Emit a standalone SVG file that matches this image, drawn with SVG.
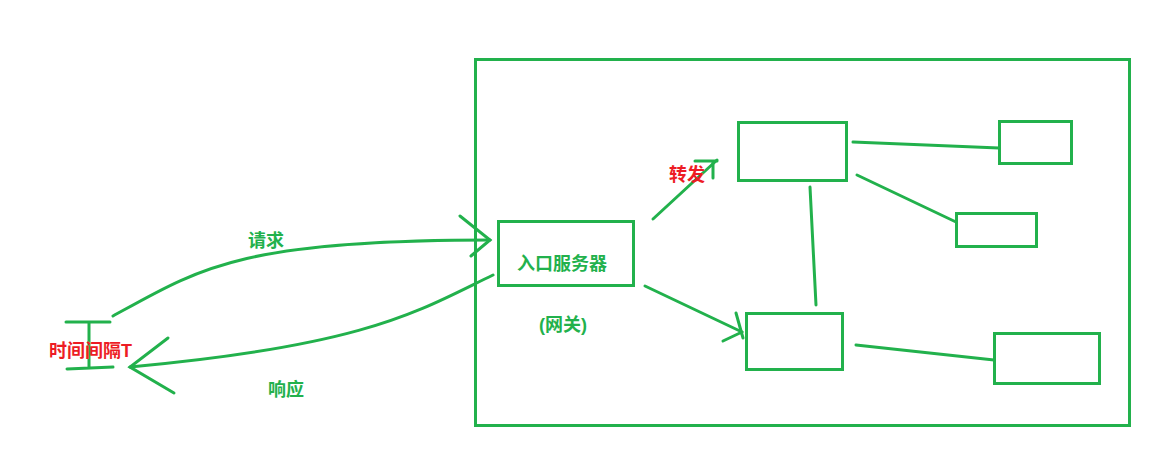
<svg xmlns="http://www.w3.org/2000/svg" width="1175" height="476" viewBox="0 0 1175 476">
<style>
.b{fill:none;stroke:#22b14c;stroke-width:3}
.l{fill:none;stroke:#22b14c;stroke-width:3;stroke-linecap:round}
.g{fill:#22b14c;font-family:"Liberation Sans","Noto Sans CJK SC",sans-serif;font-weight:bold;font-size:18px}
.r{fill:#ed1c24;font-family:"Liberation Sans","Noto Sans CJK SC",sans-serif;font-weight:bold;font-size:18px}
</style>
<rect width="1175" height="476" fill="#fff"/>
<g id="cluster"><rect class="b" x="475.5" y="59.5" width="654" height="366"/></g>
<g id="gateway"><rect class="b" x="498.5" y="221.5" width="135" height="64"/>
<text class="g" x="562" y="270" text-anchor="middle">入口服务器</text>
<text class="g" x="563" y="331" text-anchor="middle">(网关)</text></g>
<g id="svc1"><rect class="b" x="738.5" y="122.5" width="108" height="58"/></g>
<g id="svc2"><rect class="b" x="746.5" y="313.5" width="96" height="56"/></g>
<g id="n1"><rect class="b" x="999.5" y="121.5" width="72" height="42"/></g>
<g id="n2"><rect class="b" x="956.5" y="213.5" width="80" height="33"/></g>
<g id="n3"><rect class="b" x="994.5" y="333.5" width="105" height="50"/></g>
<g id="interval">
<path class="l" d="M66 322H110M89 322V368M67 369L113 367"/>
<text class="r" x="49" y="357" font-size="19">时间间隔T</text></g>
<g id="connectors">
<path class="l" d="M113 316C200 268 240 240 490 240"/>
<path class="l" d="M460 216L490 240L471 256"/>
<path class="l" d="M493 275C420 310 370 345 130 367"/>
<path class="l" d="M168 338L130 367L174 393"/>
<path class="l" d="M653 219L717 160"/>
<path class="l" d="M695 161H717M713 162V178"/>
<path class="l" d="M645 286L742 332"/>
<path class="l" d="M736 313L743 338M723 341L742 332"/>
<path class="l" d="M853 142L999 148"/>
<path class="l" d="M857 175L956 222"/>
<path class="l" d="M810 187L816 305"/>
<path class="l" d="M856 345L994 360"/>
</g>
<g id="labels">
<text class="g" x="266" y="247" text-anchor="middle">请求</text>
<text class="g" x="286" y="396" text-anchor="middle">响应</text>
<text class="r" x="669" y="181">转发</text>
</g>
</svg>
